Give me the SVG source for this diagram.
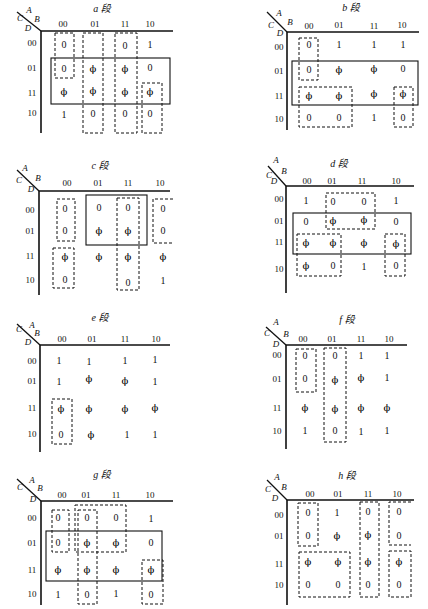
<svg xmlns="http://www.w3.org/2000/svg" width="428" height="609" viewBox="0 0 428 609">
<style>
text{font-family:"Liberation Serif","Noto Sans CJK SC",serif;fill:#111;text-anchor:middle;dominant-baseline:central}
.v{font-size:10px}
.p{font-size:10px;font-family:"DejaVu Serif",serif;fill:#000}
.h{font-size:9px}
.t{font-size:10px;font-style:italic}
.l{font-size:9px;font-style:italic}
.ax{stroke:#111;stroke-width:1.6;fill:none}
.dg{stroke:#111;stroke-width:1.3}
.d{stroke:#111;stroke-width:1;fill:none;stroke-dasharray:3,2}
.s{stroke:#111;stroke-width:1.1;fill:none}
</style>
<rect width="428" height="609" fill="#fff"/>

<g id="map-a">
<text class="t" x="102" y="8">a 段</text>
<line class="dg" x1="17" y1="12" x2="41" y2="31"/>
<text class="l" x="29" y="10">A</text><text class="l" x="20" y="18">C</text><text class="l" x="37" y="19">B</text><text class="l" x="28" y="28">D</text>
<path class="ax" d="M41,31H173M41,31V133"/>
<text class="h" x="63" y="24">00</text><text class="h" x="95" y="24">01</text><text class="h" x="125" y="24">11</text><text class="h" x="150" y="24">10</text>
<text class="h" x="32" y="43">00</text><text class="h" x="32" y="68">01</text><text class="h" x="32" y="93">11</text><text class="h" x="32" y="113">10</text>
<text class="v" x="64" y="44">0</text><text class="v" x="125" y="45">0</text><text class="v" x="150" y="44">1</text>
<text class="v" x="64" y="68">0</text><text class="p" x="93" y="68">ϕ</text><text class="p" x="125" y="68">ϕ</text><text class="v" x="150" y="67">0</text>
<text class="p" x="64" y="91">ϕ</text><text class="p" x="93" y="90">ϕ</text><text class="p" x="125" y="91">ϕ</text><text class="p" x="150" y="91">ϕ</text>
<text class="v" x="64" y="114">1</text><text class="v" x="93" y="113">0</text><text class="v" x="125" y="113">0</text><text class="v" x="150" y="113">0</text>
<rect class="d" x="55" y="33" width="19" height="45"/>
<rect class="d" x="83" y="33" width="20" height="100"/>
<rect class="d" x="115" y="33" width="22" height="100"/>
<rect class="d" x="142" y="83" width="20" height="50"/>
<rect class="s" x="51" y="58" width="119" height="46"/>
</g>

<g id="map-b">
<text class="t" x="351" y="7">b 段</text>
<line class="dg" x1="267" y1="12" x2="287" y2="32"/>
<text class="l" x="279" y="13">A</text><text class="l" x="271" y="25">C</text><text class="l" x="290" y="22">B</text><text class="l" x="280" y="33">D</text>
<path class="ax" d="M287,32H419M287,32V130"/>
<text class="h" x="309" y="26">00</text><text class="h" x="339" y="25">01</text><text class="h" x="374" y="26">11</text><text class="h" x="402" y="25">10</text>
<text class="h" x="279" y="47">00</text><text class="h" x="279" y="71">01</text><text class="h" x="279" y="96">11</text><text class="h" x="279" y="119">10</text>
<text class="v" x="309" y="44">0</text><text class="v" x="339" y="44">1</text><text class="v" x="374" y="44">1</text><text class="v" x="403" y="44">1</text>
<text class="v" x="309" y="69">0</text><text class="p" x="339" y="69">ϕ</text><text class="p" x="374" y="68">ϕ</text><text class="v" x="403" y="68">0</text>
<text class="p" x="309" y="95">ϕ</text><text class="p" x="339" y="95">ϕ</text><text class="p" x="374" y="93">ϕ</text><text class="p" x="403" y="93">ϕ</text>
<text class="v" x="309" y="117">0</text><text class="v" x="339" y="117">0</text><text class="v" x="374" y="117">1</text><text class="v" x="403" y="117">0</text>
<rect class="d" x="299" y="38" width="19" height="42"/>
<rect class="d" x="299" y="87" width="53" height="40"/>
<rect class="d" x="394" y="87" width="19" height="40"/>
<rect class="s" x="292" y="61" width="126" height="44"/>
</g>

<g id="map-c">
<text class="t" x="100" y="165">c 段</text>
<line class="dg" x1="17" y1="170" x2="39" y2="191"/>
<text class="l" x="25" y="168">A</text><text class="l" x="19" y="180">C</text><text class="l" x="38" y="178">B</text><text class="l" x="31" y="189">D</text>
<path class="ax" d="M39,191H170M39,191V295"/>
<text class="h" x="67" y="183">00</text><text class="h" x="98" y="183">01</text><text class="h" x="128" y="183">11</text><text class="h" x="160" y="183">10</text>
<text class="h" x="30" y="210">00</text><text class="h" x="30" y="231">01</text><text class="h" x="30" y="256">11</text><text class="h" x="30" y="280">10</text>
<text class="v" x="65" y="208">0</text><text class="v" x="99" y="207">0</text><text class="v" x="128" y="207">0</text><text class="v" x="163" y="208">0</text>
<text class="v" x="65" y="230">0</text><text class="p" x="99" y="230">ϕ</text><text class="p" x="128" y="230">ϕ</text><text class="v" x="163" y="230">0</text>
<text class="p" x="65" y="256">ϕ</text><text class="p" x="99" y="256">ϕ</text><text class="p" x="128" y="256">ϕ</text><text class="p" x="163" y="256">ϕ</text>
<text class="v" x="65" y="279">0</text><text class="v" x="128" y="282">0</text><text class="v" x="163" y="280">1</text>
<rect class="d" x="57" y="199" width="18" height="42"/>
<rect class="d" x="53" y="248" width="21" height="40"/>
<rect class="d" x="117" y="198" width="22" height="92"/>
<path class="d" d="M173,199H153V243H173"/>
<rect class="s" x="86" y="195" width="61" height="50"/>
</g>

<g id="map-d">
<text class="t" x="339" y="163">d 段</text>
<line class="dg" x1="268" y1="166" x2="286" y2="186"/>
<text class="l" x="276" y="160">A</text><text class="l" x="269" y="175">C</text><text class="l" x="284" y="171">B</text><text class="l" x="274" y="181">D</text>
<path class="ax" d="M286,186H414M286,186V293"/>
<text class="h" x="307" y="181">00</text><text class="h" x="332" y="181">01</text><text class="h" x="362" y="181">11</text><text class="h" x="396" y="181">10</text>
<text class="h" x="279" y="199">00</text><text class="h" x="279" y="221">01</text><text class="h" x="279" y="242">11</text><text class="h" x="279" y="269">10</text>
<text class="v" x="306" y="200">1</text><text class="v" x="333" y="201">0</text><text class="v" x="364" y="201">0</text><text class="v" x="396" y="200">1</text>
<text class="v" x="306" y="221">0</text><text class="p" x="333" y="220">ϕ</text><text class="p" x="364" y="219">ϕ</text><text class="v" x="396" y="221">0</text>
<text class="p" x="306" y="242">ϕ</text><text class="p" x="333" y="242">ϕ</text><text class="p" x="364" y="242">ϕ</text><text class="p" x="396" y="243">ϕ</text>
<text class="p" x="306" y="265">ϕ</text><text class="v" x="333" y="265">0</text><text class="v" x="364" y="266">1</text><text class="v" x="396" y="265">0</text>
<rect class="d" x="326" y="193" width="49" height="36"/>
<rect class="d" x="297" y="234" width="44" height="42"/>
<rect class="d" x="385" y="234" width="20" height="42"/>
<rect class="s" x="293" y="213" width="118" height="41"/>
</g>

<g id="map-e">
<text class="t" x="100" y="317">e 段</text>
<line class="dg" x1="17" y1="324" x2="40" y2="345"/>
<text class="l" x="32" y="325">A</text><text class="l" x="19" y="329">C</text><text class="l" x="37" y="333">B</text><text class="l" x="28" y="342">D</text>
<path class="ax" d="M40,345H170M40,345V452"/>
<text class="h" x="62" y="339">00</text><text class="h" x="92" y="339">01</text><text class="h" x="125" y="339">11</text><text class="h" x="156" y="339">10</text>
<text class="h" x="32" y="361">00</text><text class="h" x="32" y="381">01</text><text class="h" x="32" y="408">11</text><text class="h" x="32" y="434">10</text>
<text class="v" x="59" y="360">1</text><text class="v" x="89" y="361">1</text><text class="v" x="125" y="360">1</text><text class="v" x="155" y="359">1</text>
<text class="v" x="59" y="381">1</text><text class="p" x="89" y="378">ϕ</text><text class="p" x="125" y="380">ϕ</text><text class="v" x="155" y="381">1</text>
<text class="p" x="61" y="408">ϕ</text><text class="p" x="89" y="408">ϕ</text><text class="p" x="125" y="408">ϕ</text><text class="p" x="155" y="407">ϕ</text>
<text class="v" x="61" y="434">0</text><text class="p" x="91" y="434">ϕ</text><text class="v" x="127" y="434">1</text><text class="v" x="155" y="434">1</text>
<rect class="d" x="52" y="399" width="20" height="45"/>
</g>

<g id="map-f">
<text class="t" x="347" y="319">f 段</text>
<line class="dg" x1="266" y1="327" x2="286" y2="345"/>
<text class="l" x="276" y="322">A</text><text class="l" x="267" y="333">C</text><text class="l" x="286" y="334">B</text><text class="l" x="276" y="344">D</text>
<path class="ax" d="M286,345H407M286,345V449"/>
<text class="h" x="303" y="339">00</text><text class="h" x="332" y="339">01</text><text class="h" x="361" y="339">11</text><text class="h" x="389" y="339">10</text>
<text class="h" x="277" y="355">00</text><text class="h" x="277" y="379">01</text><text class="h" x="277" y="408">11</text><text class="h" x="277" y="431">10</text>
<text class="v" x="305" y="355">0</text><text class="v" x="335" y="355">0</text><text class="v" x="361" y="355">1</text><text class="v" x="387" y="355">1</text>
<text class="v" x="305" y="378">0</text><text class="p" x="335" y="379">ϕ</text><text class="p" x="361" y="377">ϕ</text><text class="v" x="387" y="377">1</text>
<text class="p" x="305" y="407">ϕ</text><text class="p" x="335" y="408">ϕ</text><text class="p" x="361" y="407">ϕ</text><text class="p" x="387" y="407">ϕ</text>
<text class="v" x="305" y="430">1</text><text class="v" x="335" y="430">0</text><text class="v" x="361" y="431">1</text><text class="v" x="387" y="430">1</text>
<rect class="d" x="296" y="349" width="20" height="43"/>
<rect class="d" x="324" y="348" width="22" height="94"/>
</g>

<g id="map-g">
<text class="t" x="102" y="474">g 段</text>
<line class="dg" x1="17" y1="479" x2="41" y2="501"/>
<text class="l" x="32" y="480">A</text><text class="l" x="20" y="487">C</text><text class="l" x="40" y="488">B</text><text class="l" x="33" y="499">D</text>
<path class="ax" d="M41,501H173M41,501V605"/>
<text class="h" x="62" y="495">00</text><text class="h" x="86" y="495">01</text><text class="h" x="116" y="495">11</text><text class="h" x="150" y="495">10</text>
<text class="h" x="32" y="518">00</text><text class="h" x="32" y="543">01</text><text class="h" x="32" y="570">11</text><text class="h" x="32" y="594">10</text>
<text class="v" x="58" y="517">0</text><text class="v" x="87" y="517">0</text><text class="v" x="116" y="517">0</text><text class="v" x="151" y="518">1</text>
<text class="v" x="58" y="542">0</text><text class="p" x="87" y="542">ϕ</text><text class="p" x="116" y="542">ϕ</text><text class="v" x="151" y="542">0</text>
<text class="p" x="58" y="569">ϕ</text><text class="p" x="87" y="569">ϕ</text><text class="p" x="116" y="569">ϕ</text><text class="p" x="151" y="569">ϕ</text>
<text class="v" x="58" y="594">1</text><text class="v" x="87" y="594">0</text><text class="v" x="116" y="593">1</text><text class="v" x="151" y="594">0</text>
<rect class="d" x="52" y="510" width="17" height="42"/>
<rect class="d" x="75" y="505" width="51" height="47"/>
<rect class="d" x="78" y="510" width="19" height="94"/>
<rect class="d" x="142" y="560" width="21" height="44"/>
<rect class="s" x="46" y="531" width="116" height="50"/>
</g>

<g id="map-h">
<text class="t" x="347" y="475">h 段</text>
<line class="dg" x1="267" y1="480" x2="287" y2="500"/>
<text class="l" x="277" y="477">A</text><text class="l" x="268" y="489">C</text><text class="l" x="284" y="487">B</text><text class="l" x="275" y="498">D</text>
<path class="ax" d="M287,500H414M287,500V605"/>
<text class="h" x="310" y="494">00</text><text class="h" x="338" y="494">01</text><text class="h" x="368" y="494">11</text><text class="h" x="397" y="494">10</text>
<text class="h" x="279" y="515">00</text><text class="h" x="279" y="536">01</text><text class="h" x="279" y="564">11</text><text class="h" x="279" y="585">10</text>
<text class="v" x="308" y="512">0</text><text class="v" x="337" y="512">1</text><text class="v" x="368" y="511">0</text><text class="v" x="399" y="511">0</text>
<text class="v" x="308" y="535">0</text><text class="p" x="337" y="535">ϕ</text><text class="p" x="368" y="534">ϕ</text><text class="v" x="399" y="535">0</text>
<text class="p" x="308" y="561">ϕ</text><text class="p" x="338" y="561">ϕ</text><text class="p" x="368" y="561">ϕ</text><text class="p" x="399" y="561">ϕ</text>
<text class="v" x="308" y="584">0</text><text class="v" x="338" y="584">0</text><text class="v" x="368" y="584">0</text><text class="v" x="399" y="584">0</text>
<rect class="d" x="298" y="503" width="20" height="43"/>
<rect class="d" x="299" y="552" width="51" height="45"/>
<rect class="d" x="360" y="502" width="19" height="95"/>
<path class="d" d="M411,502H389V545H411"/>
<rect class="d" x="389" y="551" width="22" height="46"/>
</g>
</svg>
